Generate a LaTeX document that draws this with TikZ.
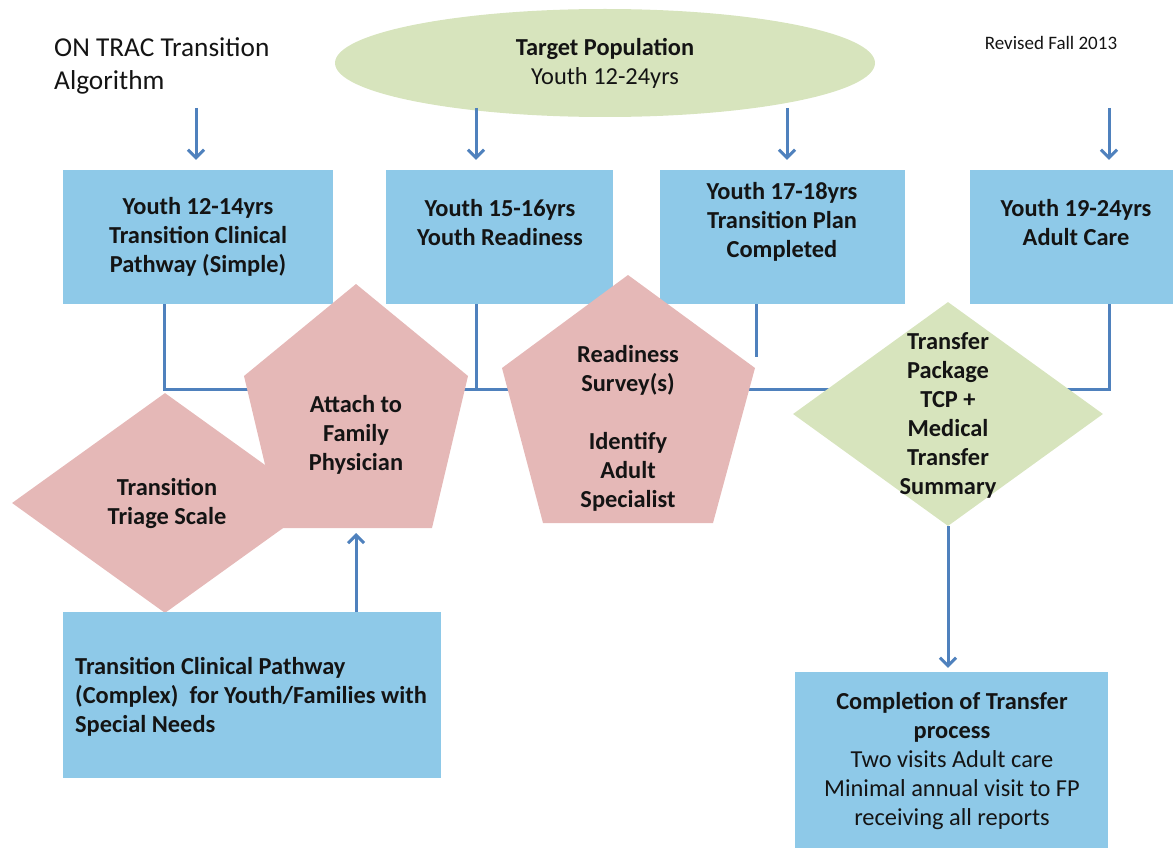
\documentclass[tikz,border=0pt]{standalone}
\usepackage{fontspec}
\setmainfont{Carlito}
\usetikzlibrary{arrows.meta,shapes.geometric}
\definecolor{boxblue}{RGB}{142,201,232}
\definecolor{pinkc}{RGB}{229,184,183}
\definecolor{greenc}{RGB}{215,228,189}
\definecolor{linec}{RGB}{79,129,189}
\definecolor{txt}{RGB}{20,20,20}
\begin{document}
\begin{tikzpicture}[x=1pt,y=-1pt,
  box/.style={rectangle, fill=boxblue, draw=none, inner sep=0pt},
  btxt/.style={font=\fontsize{24.4}{29}\selectfont\bfseries, align=center, inner sep=0pt, text=txt},
  rtxt/.style={font=\fontsize{24.4}{29}\selectfont, align=center, inner sep=0pt, text=txt},
  conn/.style={draw=linec, line width=3pt},
  arr/.style={conn, -{Straight Barb[length=8pt,width=16pt]}},
  pinkshape/.style={fill=pinkc, draw=none},
  dia/.style={diamond, draw=none, inner sep=0pt}
]
\useasboundingbox (0,0) rectangle (1173,848);

% title and note
\node[anchor=west, align=left, inner sep=0pt, text=txt, font=\fontsize{27.3}{33}\selectfont] (title) at (54,66) {ON TRAC Transition\\Algorithm};
\node[inner sep=0pt, text=txt, font=\fontsize{19}{22}\selectfont] (rev) at (1051,43) {Revised Fall 2013};

% target population
\node[ellipse, fill=greenc, minimum width=540, minimum height=108, inner sep=0pt, align=center, text=txt,
      font=\fontsize{24.4}{29}\selectfont] (target) at (605,63) {\textbf{Target Population}\\Youth 12-24yrs};

% top boxes
\node[box, minimum width=270, minimum height=134] (b1) at (198,237) {};
\node[box, minimum width=227, minimum height=134] (b2) at (499.5,237) {};
\node[box, minimum width=245, minimum height=134] (b3) at (782.5,237) {};
\node[box, minimum width=212, minimum height=134] (b4) at (1076,237) {};
\node[btxt] (t1) at (198,237) {Youth 12-14yrs\\Transition Clinical\\Pathway (Simple)};
\node[btxt] (t2) at (500,222.5) {Youth 15-16yrs\\Youth Readiness};
\node[btxt] (t3) at (782,222) {Youth 17-18yrs\\Transition Plan\\Completed};
\node[btxt] (t4) at (1076,222.5) {Youth 19-24yrs\\Adult Care};

% arrows from the top
\coordinate (s1) at (196,108);
\coordinate (s2) at (476,108);
\coordinate (s3) at (787,108);
\coordinate (s4) at (1109,108);
\draw[arr, shorten >=10pt] (s1) -- (s1 |- b1.north);
\draw[arr, shorten >=10pt] (s2) -- (s2 |- b2.north);
\draw[arr, shorten >=10pt] (s3) -- (s3 |- b3.north);
\draw[arr, shorten >=10pt] (s4) -- (s4 |- b4.north);

% connector lines
\coordinate (hl) at (840,389);
\coordinate (hr) at (1040,389);
\draw[conn] ([xshift=-34pt]b1.south) |- (hl);
\draw[conn] ([xshift=-23.5pt]b2.south) -- ++(0,85);
\draw[conn] ([xshift=-26.5pt]b3.south) -- ++(0,53);
\draw[conn] ([xshift=33pt]b4.south) |- (hr);

% triage diamond
\node[dia, fill=pinkc, minimum width=306, minimum height=220] (triage) at (165,503) {};
\node[btxt] (triaget) at (167,503) {Transition\\Triage Scale};

% pentagon 1
\fill[pinkshape] (356,284) -- (468,376) -- (432,528) -- (280,528) -- (244,376) -- cycle;
\coordinate (p1b) at (356,528);
\node[btxt] (attach) at (356,434.5) {Attach to\\Family\\Physician};

% pentagon 2
\fill[pinkshape] (628,275) -- (755,368) -- (713,523) -- (543,523) -- (502,368) -- cycle;
\node[btxt] (ready) at (628,428.5) {Readiness\\Survey(s)\\[29pt]Identify\\Adult\\Specialist};

% transfer package diamond
\node[dia, fill=greenc, minimum width=310, minimum height=224] (tpk) at (948,414) {};
\node[btxt] (tpkt) at (948,415.5) {Transfer\\Package\\TCP +\\Medical\\Transfer\\Summary};

% complex box
\node[box, minimum width=378, minimum height=166] (cx) at (252,695) {};
\node[btxt, anchor=west, align=left] (cxt) at (75,697) {Transition Clinical Pathway\\(Complex)\ \ for Youth/Families with\\Special Needs};
\draw[arr, shorten >=5pt] (cx.north -| p1b) -- (p1b);

% completion box
\node[box, minimum width=313, minimum height=188] (comp) at (951.5,766) {};
\node[rtxt] (compt) at (952,761) {\textbf{Completion of Transfer}\\\textbf{process}\\Two visits Adult care\\Minimal annual visit to FP\\receiving all reports};
\draw[arr, shorten >=4pt] (tpk.south) -- (tpk.south |- comp.north);
\end{tikzpicture}
\end{document}
